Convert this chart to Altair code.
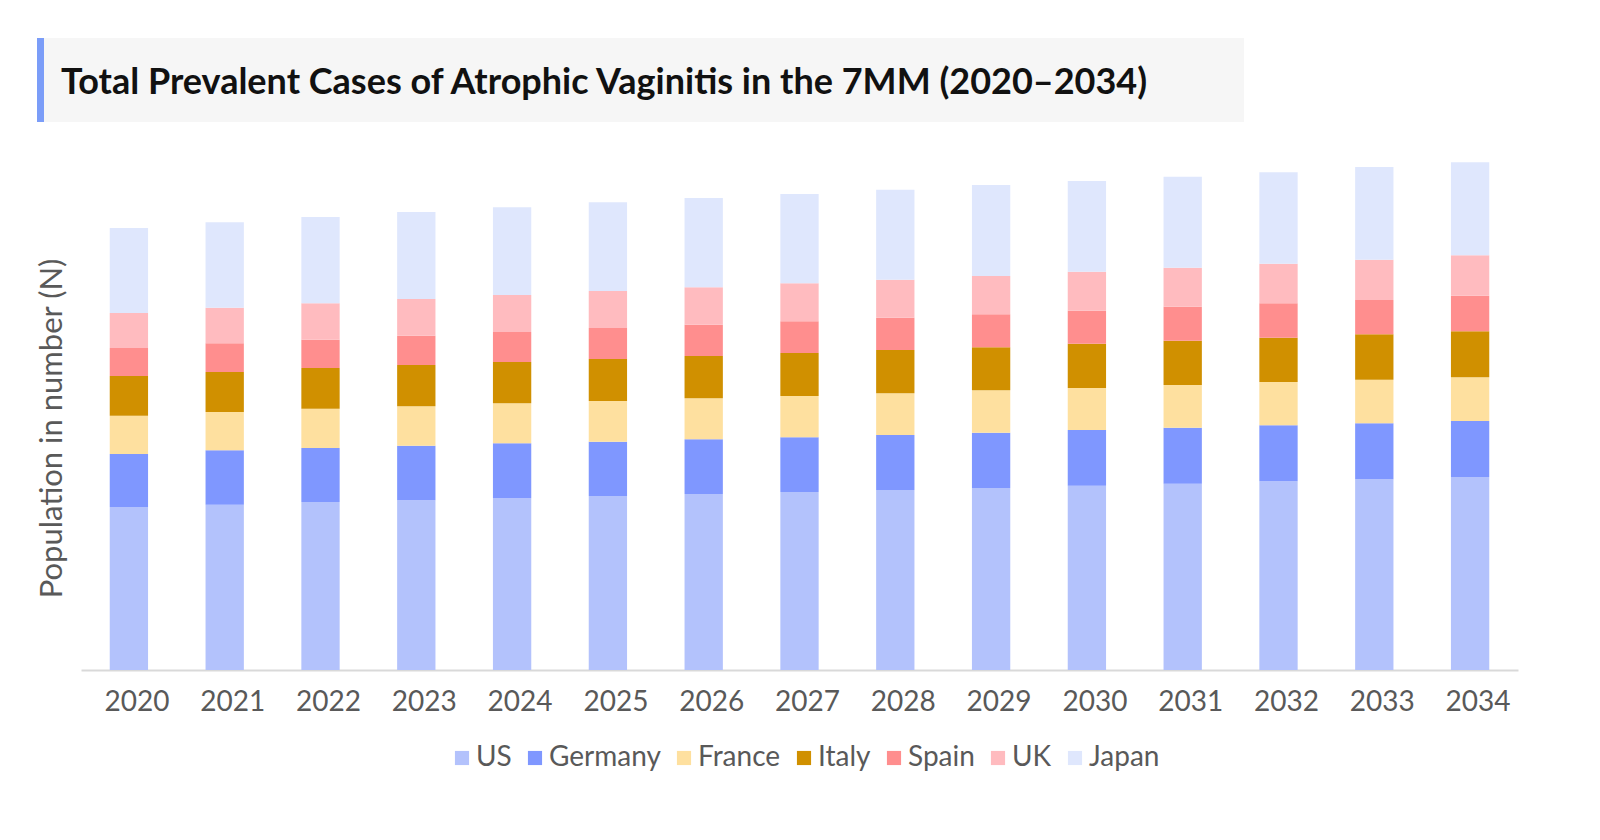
import altair as alt
import pandas as pd

years = ["2020", "2021", "2022", "2023", "2024", "2025", "2026", "2027",
         "2028", "2029", "2030", "2031", "2032", "2033", "2034"]
countries = ["US", "Germany", "France", "Italy", "Spain", "UK", "Japan"]
colors = ["#b3c2fc", "#7f97ff", "#fee09f", "#d09000", "#ff8e8e", "#ffbbbf", "#dfe7fd"]

us = [163, 165.3, 168, 169.7, 171.7, 174, 176, 178, 180, 182, 184.3, 186.3, 188.7, 190.7, 193]
germany = [53, 54.4, 54, 54.6, 55, 54.3, 54.7, 54.7, 55, 55.3, 55.7, 56, 56, 56, 56]
france = [38.3, 38.3, 39.3, 39.4, 40, 40.7, 41, 41.3, 41.7, 42.4, 42, 42.7, 43.3, 43.6, 43.7]
italy = [39.7, 40, 40.7, 41.3, 41.3, 42, 42.3, 43, 43.3, 43, 44.3, 44.3, 44.3, 45.4, 46]
spain = [28, 28.7, 28.3, 29.3, 30, 31, 31.3, 31.7, 32.3, 33, 33, 34, 34.4, 34.3, 35.6]
uk = [35, 35.6, 36.4, 36.7, 37, 37, 37.4, 38, 38, 38.3, 39, 39, 39.6, 40.3, 40.4]
japan = [85, 85.4, 86.3, 87, 87.7, 88.7, 89.3, 89.3, 90, 91, 90.7, 91, 91.4, 92.7, 93]

title_text = "Total Prevalent Cases of Atrophic Vaginitis in the 7MM (2020\u20132034)"
y_title = "Population in number (N)"

series = [us, germany, france, italy, spain, uk, japan]
rows = []
for ci, (c, vals) in enumerate(zip(countries, series)):
    for y, v in zip(years, vals):
        rows.append({"year": y, "country": c, "value": v, "order": ci})
df = pd.DataFrame(rows)

FONT = "Lato"

bars = alt.Chart(df).mark_bar().encode(
    x=alt.X("year:N", sort=years,
            scale=alt.Scale(paddingInner=0.6, paddingOuter=0.3),
            axis=alt.Axis(title=None, labelAngle=0, ticks=False,
                          domainColor="#d9d9d9", domainWidth=2,
                          labelFontSize=28, labelColor="#595959", labelFont=FONT,
                          labelPadding=18, labelOffset=8)),
    y=alt.Y("value:Q", stack="zero",
            scale=alt.Scale(domain=[0, 520], nice=False),
            axis=alt.Axis(title=y_title, labels=False, ticks=False, domain=False,
                          grid=False, titleFontSize=31, titleFont=FONT,
                          titleColor="#595959", titleFontWeight="normal",
                          titleAngle=-90, titleX=-29, titleY=278,
                          titleAlign="center", titleBaseline="middle")),
    color=alt.Color("country:N",
                    scale=alt.Scale(domain=countries, range=colors),
                    legend=alt.Legend(title=None, orient="none", direction="horizontal",
                                      legendX=367, legendY=594,
                                      symbolType="square", symbolSize=200,
                                      symbolStrokeWidth=0, labelFontSize=28,
                                      labelFont=FONT, labelColor="#595959",
                                      labelOffset=0, columnPadding=9)),
    order=alt.Order("order:Q", sort="ascending"),
)

one = alt.Data(values=[{"k": 1}])

box = alt.Chart(one).mark_rect(color="#f6f6f6").encode(
    x=alt.value(-44), x2=alt.value(1163), y=alt.value(-112), y2=alt.value(-28))
accent = alt.Chart(one).mark_rect(color="#7b9df8").encode(
    x=alt.value(-44), x2=alt.value(-37), y=alt.value(-112), y2=alt.value(-28))
title = alt.Chart(one).mark_text(
    text=title_text, font=FONT, fontSize=36, fontWeight="bold", color="#111111",
    align="left", baseline="middle").encode(x=alt.value(-20), y=alt.value(-67))

chart = alt.layer(box, accent, title, bars).properties(
    width=1437, height=520,
    autosize=alt.AutoSizeParams(type="none"),
    padding={"left": 73, "top": 142, "right": 40, "bottom": 170},
).configure_view(stroke=None)

chart.save("out.html", embed_options={"renderer": "svg", "actions": False})
